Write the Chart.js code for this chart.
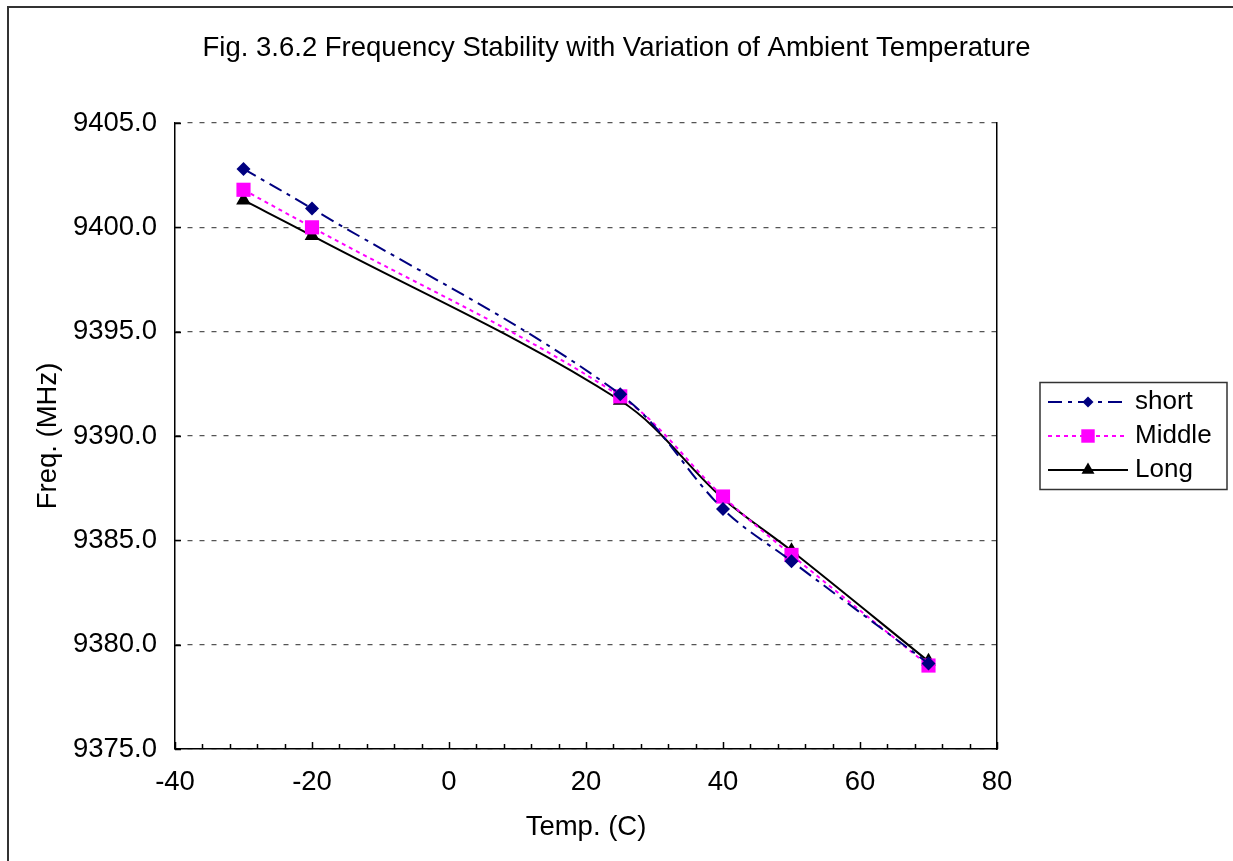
<!DOCTYPE html>
<html>
<head>
<meta charset="utf-8">
<title>Frequency Stability</title>
<script src="https://cdn.jsdelivr.net/npm/chart.js@4/dist/chart.umd.min.js"></script>
<style>
body{margin:0;background:#fff;}
#wrap{width:1233px;height:861px;}
</style>
</head>
<body>
<div id="wrap"><canvas id="canvas1" width="1233" height="861"></canvas></div>
<script>
// temperature points (C)
var temps = [-30, -20, 25, 40, 50, 70];
// frequency (MHz) for each setting
var shortFreq  = [9402.8, 9400.9, 9392.0, 9386.5, 9384.0, 9379.1];
var middleFreq = [9401.8, 9400.0, 9391.9, 9387.1, 9384.3, 9379.0];
var longFreq   = [9401.3, 9399.6, 9391.7, 9387.0, 9384.5, 9379.2];
var seriesNames = ["short", "Middle", "Long"];
var xTicks = [-40, 80, 20];      // min, max, step
var yTicks = [9375, 9405, 5];    // min, max, step

var FONT = "'Liberation Sans', Arial, Helvetica, sans-serif";
var FS = 27.5;

function toPoints(ys){
	var pts = [];
	for (var i = 0; i < temps.length; i++) {
		pts.push({x: temps[i], y: ys[i]});
	}
	return pts;
}

function drawMarker(ctx, style, x, y, r, color){
	ctx.save();
	ctx.fillStyle = color;
	ctx.beginPath();
	if (style == 'rectRot') {
		ctx.moveTo(x, y - r); ctx.lineTo(x + r, y); ctx.lineTo(x, y + r); ctx.lineTo(x - r, y);
	} else if (style == 'rect') {
		var s = r * Math.SQRT1_2;
		ctx.rect(x - s, y - s, 2 * s, 2 * s);
	} else {
		ctx.moveTo(x, y - r);
		ctx.lineTo(x + r * 0.866, y + r * 0.5);
		ctx.lineTo(x - r * 0.866, y + r * 0.5);
	}
	ctx.closePath();
	ctx.fill();
	ctx.restore();
}

// frame, inside tick marks, legend
var excelLook = {
	id: 'excelLook',
	beforeDraw: function(chart){
		var ctx = chart.ctx;
		ctx.save();
		ctx.fillStyle = '#fff';
		ctx.fillRect(0, 0, chart.width, chart.height);
		ctx.strokeStyle = '#333';
		ctx.lineWidth = 2;
		ctx.strokeRect(8, 7, chart.width + 20, chart.height + 20);
		ctx.restore();
	},
	afterDraw: function(chart){
		var ctx = chart.ctx;
		var area = chart.chartArea;
		var xs = chart.scales.x, ys = chart.scales.y;
		ctx.save();
		ctx.strokeStyle = '#000';
		ctx.lineWidth = 1.5;
		ctx.beginPath();
		for (var v = xTicks[0]; v <= xTicks[1]; v += 4) {
			var px = Math.round(xs.getPixelForValue(v)) + 0.5;
			var len = (v % 20 == 0) ? 7 : 5;
			ctx.moveTo(px, area.bottom);
			ctx.lineTo(px, area.bottom - len);
		}
		for (var w = yTicks[0]; w <= yTicks[1]; w += yTicks[2]) {
			var py = Math.round(ys.getPixelForValue(w)) + 0.5;
			ctx.moveTo(area.left, py);
			ctx.lineTo(area.left + 6, py);
		}
		ctx.stroke();

		// legend
		var bx = area.right + 43, bw = 187, bh = 107;
		var cy = (area.top + area.bottom) / 2;
		var by = cy - bh / 2;
		ctx.strokeStyle = '#333';
		ctx.lineWidth = 1.5;
		ctx.strokeRect(bx, by, bw, bh);
		var ds = chart.data.datasets;
		for (var i = 0; i < ds.length; i++) {
			var ry = cy + (i - 1) * 34;
			ctx.save();
			ctx.strokeStyle = ds[i].borderColor;
			ctx.lineWidth = ds[i].borderWidth;
			ctx.setLineDash(ds[i].borderDash || []);
			ctx.beginPath();
			ctx.moveTo(bx + 8, ry);
			ctx.lineTo(bx + 88, ry);
			ctx.stroke();
			ctx.restore();
			var lr = ds[i].pointStyle == 'rectRot' ? 5.5 : (ds[i].pointStyle == 'rect' ? 9.5 : 7.5);
			drawMarker(ctx, ds[i].pointStyle, bx + 48, ry, lr, ds[i].pointBackgroundColor);
			ctx.fillStyle = '#000';
			ctx.font = '26px ' + FONT;
			ctx.textBaseline = 'middle';
			ctx.textAlign = 'left';
			ctx.fillText(ds[i].label, bx + 95, ry);
		}
		ctx.restore();
	}
};

var config = {
	type: 'scatter',
	data: {
		datasets: [{
			label: seriesNames[0],
			data: toPoints(shortFreq),
			showLine: true,
			borderColor: '#000080',
			borderWidth: 2,
			borderDash: [14, 6, 4, 6],
			tension: 0.35,
			pointStyle: 'rectRot',
			pointRadius: 7,
			pointBackgroundColor: '#000080',
			pointBorderColor: '#000080',
			pointBorderWidth: 0
		}, {
			label: seriesNames[1],
			data: toPoints(middleFreq),
			showLine: true,
			borderColor: '#FF00FF',
			borderWidth: 2,
			borderDash: [4, 4],
			tension: 0.35,
			pointStyle: 'rect',
			pointRadius: 10,
			pointBackgroundColor: '#FF00FF',
			pointBorderColor: '#FF00FF',
			pointBorderWidth: 0
		}, {
			label: seriesNames[2],
			data: toPoints(longFreq),
			showLine: true,
			borderColor: '#000',
			borderWidth: 2,
			tension: 0.35,
			pointStyle: 'triangle',
			pointRadius: 8.5,
			pointBackgroundColor: '#000',
			pointBorderColor: '#000',
			pointBorderWidth: 0
		}]
	},
	options: {
		responsive: false,
		animation: false,
		events: [],
		layout: { padding: { top: 32, left: 0, right: 0, bottom: 0 } },
		plugins: {
			legend: { display: false },
			tooltip: { enabled: false },
			title: {
				display: true,
				text: 'Fig. 3.6.2 Frequency Stability with Variation of Ambient Temperature',
				color: '#000',
				font: { family: FONT, size: FS, weight: 'normal' },
				padding: { top: 0, bottom: 58 }
			}
		},
		scales: {
			x: {
				type: 'linear',
				min: xTicks[0],
				max: xTicks[1],
				ticks: { stepSize: xTicks[2], color: '#000', font: { family: FONT, size: FS }, padding: 17, maxRotation: 0 },
				grid: { color: 'rgba(0,0,0,0)', drawTicks: false },
				border: { display: true, color: '#000', width: 1.5 },
				title: { display: true, text: 'Temp. (C)', color: '#000', font: { family: FONT, size: FS }, padding: { top: 0, bottom: 17 } },
				afterFit: function(s){ s.height = 112; }
			},
			y: {
				type: 'linear',
				min: yTicks[0],
				max: yTicks[1],
				ticks: { stepSize: yTicks[2], color: '#000', font: { family: FONT, size: FS }, padding: 18,
					callback: function(v){ return v.toFixed(1); } },
				grid: { color: '#555', lineWidth: 1.2, drawTicks: false },
				border: { display: true, color: '#000', width: 1.5, dash: [5, 7] },
				title: { display: true, text: 'Freq. (MHz)', color: '#000', font: { family: FONT, size: FS }, padding: { top: 32, bottom: 0 } },
				afterFit: function(s){ s.width = 175; }
			},
			yR: {
				type: 'linear',
				position: 'right',
				min: yTicks[0],
				max: yTicks[1],
				ticks: { display: false },
				grid: { drawOnChartArea: false, drawTicks: false },
				border: { display: true, color: '#000', width: 1.5 },
				afterFit: function(s){ s.width = 236; }
			}
		}
	},
	plugins: [excelLook]
};

var ctx1 = document.getElementById("canvas1").getContext("2d");
window.myLine1 = new Chart(ctx1, config);
</script>
</body>
</html>
